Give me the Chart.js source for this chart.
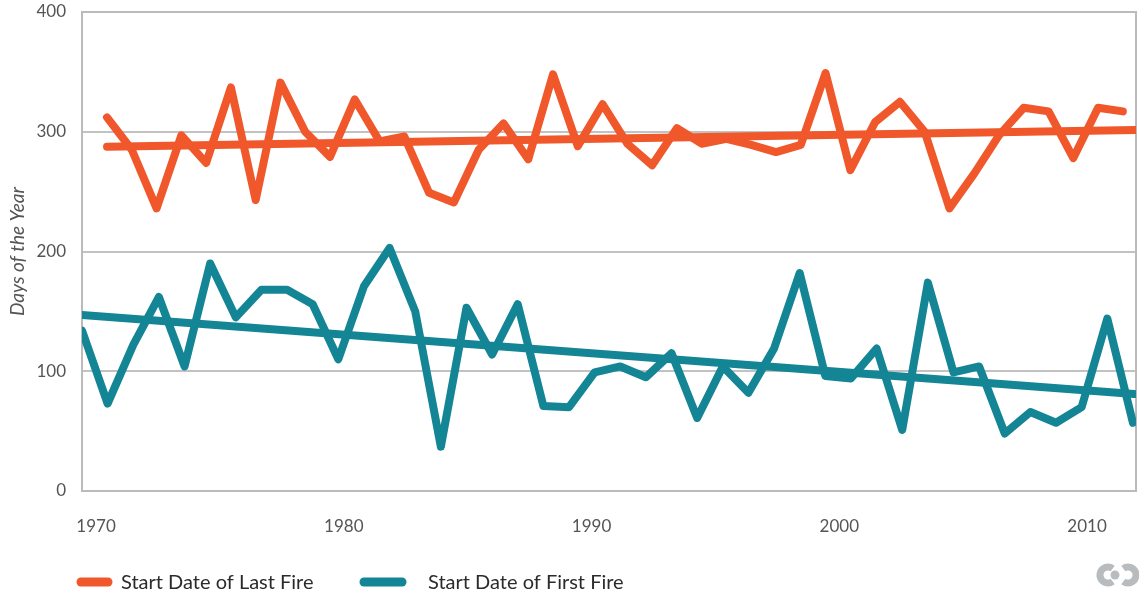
<!DOCTYPE html>
<html>
<head>
<meta charset="utf-8">
<script src="https://cdn.jsdelivr.net/npm/chart.js@4.4.1/dist/chart.umd.min.js"></script>
<style>
  html, body { margin: 0; padding: 0; background: #fff; }
  #wrap { width: 1139px; height: 594px; position: relative; }
</style>
</head>
<body>
<div id="wrap"><canvas id="fireChart"></canvas></div>
<script>
const years = [1970, 1971, 1972, 1973, 1974, 1975, 1976, 1977, 1978, 1979,
               1980, 1981, 1982, 1983, 1984, 1985, 1986, 1987, 1988, 1989,
               1990, 1991, 1992, 1993, 1994, 1995, 1996, 1997, 1998, 1999,
               2000, 2001, 2002, 2003, 2004, 2005, 2006, 2007, 2008, 2009,
               2010, 2011];

// day of year
const lastFire = [312, 285, 236, 297, 274, 337, 243, 341, 300, 279,
                  327, 292, 296, 249, 241, 285, 307, 277, 348, 288,
                  323, 290, 272, 303, 290, 294, 289, 283, 289, 349,
                  268, 308, 325, 300, 236, 265, 297, 320, 317, 278,
                  320, 317];
const firstFire = [134, 73, 122, 162, 104, 190, 145, 168, 168, 156,
                   110, 171, 203, 150, 37, 153, 114, 156, 71, 70,
                   99, 104, 95, 115, 61, 104, 82, 119, 182, 96,
                   94, 119, 51, 174, 99, 104, 48, 66, 57, 70,
                   144, 57];

// trend lines (start / end)
const lastTrendYears = [1970, 2011.5];
const lastTrend = [287.5, 301.5];
const firstTrendYears = [1970, 2011.05];
const firstTrend = [147, 81];

const xTicks = [1970, 1980, 1990, 2000, 2010];
const yTicks = [0, 100, 200, 300, 400];

const ORANGE = "#f0572b";
const TEAL = "#148595";
const FONT = "Lato";

function pairs(xs, ys) {
    return xs.map((x, i) => ({ x: x, y: ys[i] }));
}

function lineSet(label, xs, ys, color, axis, order, inLegend) {
    return {
        label: label,
        data: pairs(xs, ys),
        xAxisID: axis,
        borderColor: color,
        backgroundColor: color,
        borderWidth: 8,
        borderCapStyle: "round",
        borderJoinStyle: "round",
        pointRadius: 0,
        tension: 0,
        fill: false,
        order: order,
        inLegend: inLegend
    };
}

// plot frame drawn under the lines
const frame = {
    id: "frame",
    beforeDatasetsDraw(chart) {
        const { ctx, chartArea: a } = chart;
        ctx.save();
        ctx.strokeStyle = "#bbbbbb";
        ctx.lineWidth = 2;
        ctx.strokeRect(a.left, a.top, a.right - a.left, a.bottom - a.top);
        ctx.restore();
    }
};

// legend under the axis + logo
const bottomLegend = {
    id: "bottomLegend",
    afterDraw(chart, args, opts) {
        const ctx = chart.ctx;
        const items = chart.data.datasets.filter(d => d.inLegend);
        ctx.save();
        items.forEach((d, i) => {
            const pos = opts.items[i];
            ctx.strokeStyle = d.borderColor;
            ctx.lineWidth = 9;
            ctx.lineCap = "round";
            ctx.beginPath();
            ctx.moveTo(pos.x1, opts.y);
            ctx.lineTo(pos.x2, opts.y);
            ctx.stroke();
            ctx.fillStyle = "#2b2b2b";
            ctx.font = "20px " + FONT;
            ctx.textBaseline = "middle";
            ctx.fillText(d.label, pos.tx, opts.y + 1);
        });

        // small logo, bottom right
        ctx.strokeStyle = "#b9bcbe";
        ctx.fillStyle = "#b9bcbe";
        ctx.lineWidth = 7;
        ctx.lineCap = "butt";
        ctx.beginPath();
        ctx.arc(1108, 575, 8, 0.3 * Math.PI, 1.7 * Math.PI);
        ctx.stroke();
        ctx.beginPath();
        ctx.arc(1128, 575, 8, -0.7 * Math.PI, 0.7 * Math.PI);
        ctx.stroke();
        ctx.beginPath();
        ctx.arc(1115, 575, 4.5, 0, 2 * Math.PI);
        ctx.fill();
        ctx.restore();
    }
};

new Chart(document.getElementById("fireChart"), {
    type: "line",
    data: {
        datasets: [
            lineSet("Start Date of Last Fire", years, lastFire, ORANGE, "x", 2, true),
            lineSet("Start Date of First Fire", years, firstFire, TEAL, "x2", 2, true),
            lineSet("Last Fire trend", lastTrendYears, lastTrend, ORANGE, "x", 1, false),
            lineSet("First Fire trend", firstTrendYears, firstTrend, TEAL, "x2", 1, false)
        ]
    },
    options: {
        responsive: true,
        maintainAspectRatio: false,
        animation: false,
        layout: { padding: { top: 12, right: 3, left: 0, bottom: 0 } },
        plugins: {
            legend: { display: false },
            tooltip: { enabled: false },
            bottomLegend: {
                y: 582,
                items: [
                    { x1: 81, x2: 108, tx: 121 },
                    { x1: 364, x2: 402, tx: 428 }
                ]
            }
        },
        scales: {
            x: {
                type: "linear",
                position: "bottom",
                min: 1968.99,
                max: 2011.53,
                afterBuildTicks: axis => { axis.ticks = xTicks.map(v => ({ value: v })); },
                afterFit: axis => {
                    axis.height = 103;
                    axis.paddingLeft = 0;
                    axis.paddingRight = 0;
                },
                grid: { display: false, drawTicks: false },
                border: { display: false },
                ticks: {
                    padding: 25,
                    labelOffset: -11,
                    color: "#555",
                    font: { family: FONT, size: 17 },
                    maxRotation: 0,
                    callback: v => String(v)
                }
            },
            x2: {
                type: "linear",
                display: false,
                min: 1970,
                max: 2011.12
            },
            y: {
                min: 0,
                max: 400,
                afterBuildTicks: axis => { axis.ticks = yTicks.map(v => ({ value: v })); },
                afterFit: axis => {
                    axis.width = 82;
                    axis.paddingTop = 0;
                    axis.paddingBottom = 0;
                },
                grid: { color: "#c2c2c2", lineWidth: 2, drawTicks: false },
                border: { display: false },
                ticks: {
                    padding: 16,
                    color: "#555",
                    font: { family: FONT, size: 17 }
                },
                title: {
                    display: true,
                    text: "Days of the Year",
                    color: "#555",
                    font: { family: FONT, size: 19, style: "italic" },
                    padding: { top: 6, bottom: 0 }
                }
            }
        }
    },
    plugins: [frame, bottomLegend]
});
</script>
</body>
</html>
